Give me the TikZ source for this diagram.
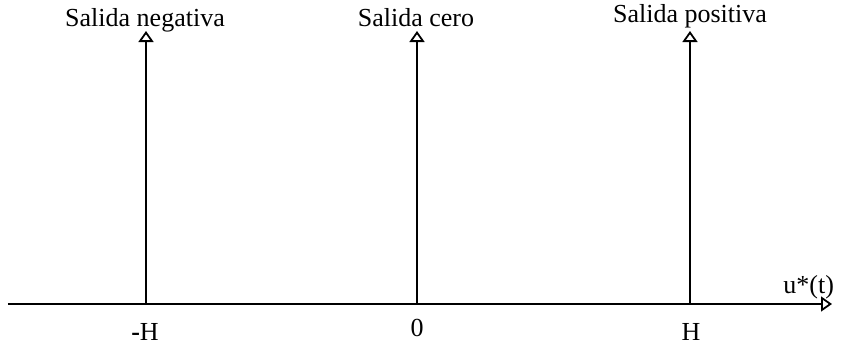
\documentclass[tikz,border=0pt]{standalone}
\usepackage{fontspec}
\setmainfont{Liberation Serif}
\usetikzlibrary{arrows.meta,positioning}

\begin{document}
\begin{tikzpicture}[
  x=0.5pt, y=-0.5pt,
  font=\fontsize{13}{15}\selectfont,
  axis/.style={line width=0.9pt, -{Triangle[open, length=5.5pt, width=7.5pt]}},
  lbl/.style={anchor=base, inner sep=0pt},
]
\useasboundingbox (0,0) rectangle (843,343);
% ---- horizontal axis ----
\coordinate (ax0) at (8,304);
\coordinate (ax1) at (832,304);
\draw[axis] (ax0) -- (ax1);
\node[lbl, anchor=base west] (uvar) at (783,293) {u*(t)};

% ---- the three impulses ----
\coordinate (neg) at (146,304);
\coordinate (zer) at (417,304);
\coordinate (pos) at (690,304);
\coordinate (negtop) at (146,31);
\coordinate (zertop) at (417,31);
\coordinate (postop) at (690,31);
\draw[axis] (neg) -- (negtop);
\draw[axis] (zer) -- (zertop);
\draw[axis] (pos) -- (postop);

\node[lbl] (sneg) at (145,26) {Salida negativa};
\node[lbl] (szer) at (416,26) {Salida cero};
\node[lbl] (spos) at (690,22) {Salida positiva};

% ---- tick labels ----
\node[lbl] (lneg) at (145,340) {\textbf{-}H};
\node[lbl] (lzer) at (417,336) {0};
\node[lbl] (lpos) at (691,340) {H};
\end{tikzpicture}
\end{document}
